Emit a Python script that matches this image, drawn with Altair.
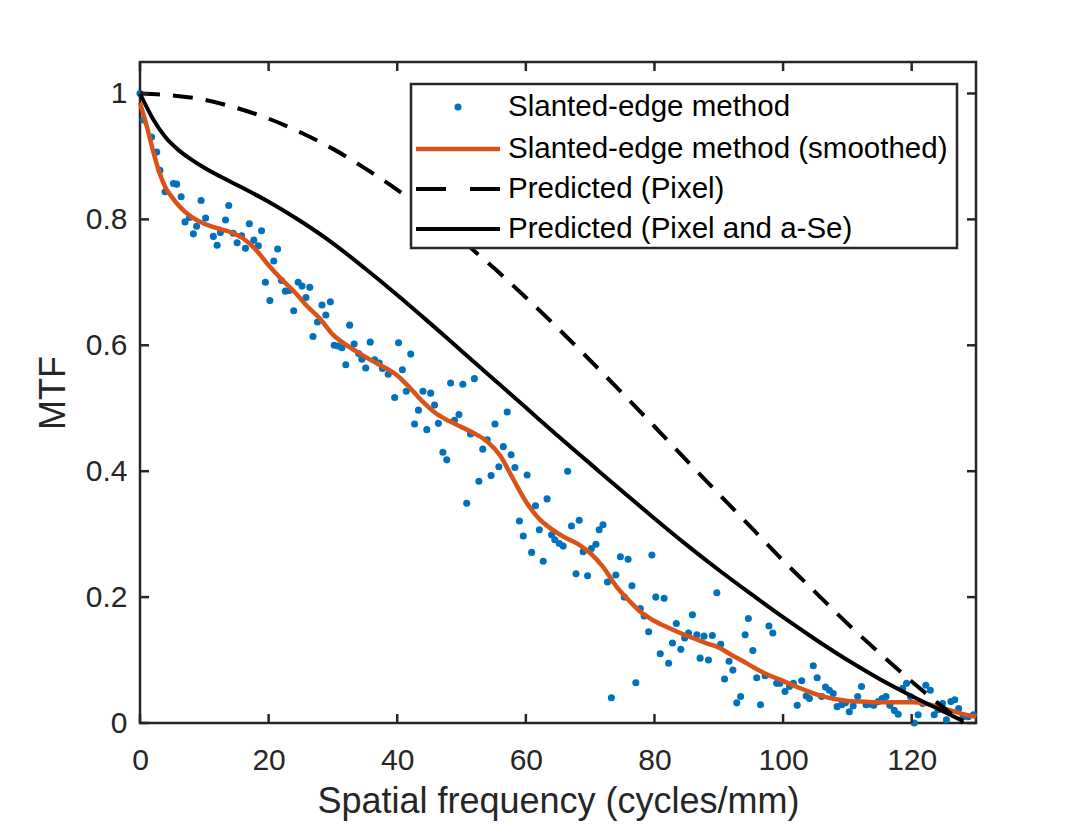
import altair as alt
import pandas as pd

# ---------------- data ----------------
scatter_f = [0.0, 0.5, 1.8, 2.6, 3.1, 3.9, 5.2, 5.7, 6.4, 7.0, 7.7, 8.3, 8.8, 9.5, 10.2, 11.4, 12.0, 12.5,
             13.3, 13.8, 14.5, 15.1, 15.8, 16.4, 17.0, 17.7, 18.4, 18.9, 19.5, 20.2, 20.8, 21.4, 22.0, 22.6,
             23.2, 23.9, 24.6, 25.2, 25.8, 26.4, 26.9, 27.6, 28.3, 28.9, 29.6, 30.2, 30.8, 31.4, 32.0, 32.6,
             33.3, 34.0, 34.5, 35.1, 35.8, 36.5, 37.2, 37.7, 38.6, 39.6, 40.2, 40.8, 41.4, 42.1, 42.7, 43.3,
             44.0, 44.6, 45.2, 45.8, 46.4, 47.1, 47.7, 48.3, 48.9, 49.6, 50.2, 50.8, 51.4, 52.0, 52.7, 53.3,
             54.0, 54.6, 55.2, 55.8, 56.5, 57.1, 57.7, 58.3, 59.0, 59.6, 60.2, 60.9, 61.5, 62.1, 62.7, 63.3,
             64.0, 64.5, 65.2, 65.8, 66.5, 67.1, 67.8, 68.3, 68.9, 69.6, 70.2, 70.9, 71.4, 72.0, 72.7, 73.3,
             74.0, 74.7, 75.3, 75.9, 76.5, 77.1, 77.8, 78.4, 79.1, 79.6, 80.2, 80.9, 81.5, 82.2, 82.8, 83.4,
             84.1, 84.7, 85.3, 85.9, 86.6, 87.1, 87.7, 88.4, 89.0, 89.7, 90.3, 90.9, 91.6, 92.2, 92.8, 93.4,
             94.1, 94.6, 95.3, 95.9, 96.5, 97.2, 97.8, 98.4, 99.0, 99.5, 100.3, 101.0, 101.6, 102.2, 102.9,
             103.6, 104.1, 104.7, 105.3, 106.0, 106.6, 107.2, 107.8, 108.4, 109.1, 109.7, 110.3, 110.9, 111.6,
             112.2, 112.9, 113.5, 114.1, 114.8, 115.4, 116.0, 116.6, 117.3, 117.9, 118.6, 119.2, 119.8, 120.4,
             121.0, 121.7, 122.2, 122.9, 123.5, 124.1, 124.8, 125.4, 126.1, 126.7, 127.3, 128.0, 128.8, 129.6]
scatter_mtf = [1.0, 0.958, 0.931, 0.907, 0.878, 0.844, 0.857, 0.856, 0.836, 0.796, 0.803, 0.777, 0.789, 0.83,
               0.802, 0.773, 0.759, 0.779, 0.799, 0.822, 0.778, 0.763, 0.774, 0.754, 0.793, 0.767, 0.758, 0.782,
               0.70, 0.671, 0.734, 0.753, 0.703, 0.686, 0.687, 0.655, 0.70, 0.694, 0.676, 0.692, 0.614, 0.637,
               0.664, 0.648, 0.669, 0.60, 0.599, 0.596, 0.569, 0.632, 0.602, 0.587, 0.578, 0.564, 0.605, 0.577,
               0.572, 0.563, 0.554, 0.517, 0.604, 0.561, 0.527, 0.586, 0.475, 0.497, 0.527, 0.466, 0.524, 0.505,
               0.476, 0.43, 0.418, 0.54, 0.481, 0.49, 0.538, 0.349, 0.459, 0.547, 0.384, 0.435, 0.45, 0.393,
               0.475, 0.407, 0.439, 0.494, 0.426, 0.406, 0.321, 0.297, 0.394, 0.271, 0.345, 0.307, 0.257, 0.356,
               0.299, 0.291, 0.285, 0.281, 0.40, 0.313, 0.237, 0.322, 0.272, 0.234, 0.277, 0.284, 0.307, 0.315,
               0.224, 0.04, 0.235, 0.264, 0.20, 0.26, 0.218, 0.064, 0.182, 0.17, 0.145, 0.267, 0.20, 0.11,
               0.198, 0.095, 0.127, 0.158, 0.117, 0.135, 0.143, 0.172, 0.14, 0.103, 0.138, 0.10, 0.139, 0.207,
               0.125, 0.07, 0.098, 0.084, 0.032, 0.042, 0.14, 0.166, 0.115, 0.072, 0.029, 0.075, 0.154, 0.143,
               0.063, 0.063, 0.05, 0.058, 0.063, 0.028, 0.067, 0.043, 0.039, 0.091, 0.072, 0.042, 0.057, 0.052,
               0.047, 0.026, 0.029, 0.032, 0.018, 0.027, 0.042, 0.058, 0.029, 0.03, 0.028, 0.034, 0.039, 0.042,
               0.028, 0.02, 0.014, 0.055, 0.063, 0.042, 0.0, 0.013, 0.031, 0.06, 0.052, 0.013, 0.021, 0.031,
               0.005, 0.034, 0.037, 0.023, 0.01, 0.01, 0.013]

smooth_f = [0, 1, 2, 3, 4, 5, 6, 8, 10, 12, 14, 16, 18, 20, 22, 24, 26, 28, 30, 32, 34, 36, 38, 40, 42, 44,
            46, 48, 50, 52, 54, 56, 58, 60, 62, 64, 66, 68, 70, 72, 74, 76, 78, 80, 82, 84, 86, 88, 90, 92,
            94, 96, 98, 100, 102, 104, 106, 108, 110, 112, 114, 116, 118, 120, 122, 124, 126, 128, 130]
smooth_mtf = [0.985, 0.95, 0.91, 0.875, 0.85, 0.835, 0.822, 0.804, 0.793, 0.786, 0.78, 0.77, 0.752, 0.727,
              0.705, 0.685, 0.662, 0.642, 0.617, 0.601, 0.588, 0.576, 0.565, 0.552, 0.532, 0.51, 0.492, 0.48,
              0.47, 0.46, 0.447, 0.425, 0.388, 0.352, 0.325, 0.308, 0.295, 0.285, 0.27, 0.248, 0.218, 0.195,
              0.175, 0.162, 0.152, 0.143, 0.135, 0.127, 0.12, 0.108, 0.097, 0.085, 0.075, 0.067, 0.058, 0.05,
              0.043, 0.038, 0.035, 0.034, 0.033, 0.033, 0.033, 0.033, 0.031, 0.026, 0.02, 0.014, 0.01]

pixel_f = [0, 5, 10, 15, 20, 25, 30, 35, 40, 45, 50, 55, 60, 65, 70, 75, 80, 85, 90, 95, 100, 105, 110,
           115, 120, 125, 128]
pixel_mtf = [1.0, 0.997, 0.990, 0.977, 0.960, 0.938, 0.912, 0.881, 0.847, 0.809, 0.767, 0.723, 0.676, 0.627,
             0.576, 0.524, 0.471, 0.417, 0.364, 0.311, 0.258, 0.208, 0.158, 0.111, 0.066, 0.024, 0.0]

ase_f = [0, 2, 4, 6, 8, 10, 15, 20, 25, 30, 35, 40, 45, 50, 55, 60, 65, 70, 75, 80, 85, 90, 95, 100, 105,
         110, 115, 120, 125, 128]
ase_mtf = [1.0, 0.96, 0.93, 0.91, 0.895, 0.882, 0.855, 0.828, 0.797, 0.762, 0.722, 0.680, 0.636, 0.591, 0.546,
           0.501, 0.456, 0.412, 0.368, 0.325, 0.283, 0.243, 0.205, 0.168, 0.133, 0.100, 0.070, 0.043, 0.018, 0.003]

x_ticks = [0, 20, 40, 60, 80, 100, 120]
y_ticks = [0, 0.2, 0.4, 0.6, 0.8, 1]
legend_labels = ["Slanted-edge method", "Slanted-edge method (smoothed)",
                 "Predicted (Pixel)", "Predicted (Pixel and a-Se)"]

# ---------------- styling ----------------
W, H = 836, 661
FONT = "Liberation Sans"
AX = "#262626"
BLUE = "#0072BD"
ORANGE = "#D95319"

xs = alt.Scale(domain=[0, 130], nice=False, zero=False)
ys = alt.Scale(domain=[0, 1.05], nice=False, zero=False)

df_sc = pd.DataFrame({"f": scatter_f, "mtf": scatter_mtf})
df_sm = pd.DataFrame({"f": smooth_f, "mtf": smooth_mtf})
df_px = pd.DataFrame({"f": pixel_f, "mtf": pixel_mtf})
df_as = pd.DataFrame({"f": ase_f, "mtf": ase_mtf})

x_axis = alt.Axis(values=x_ticks, title="Spatial frequency (cycles/mm)", grid=False, domain=False,
                  ticks=False, labelPadding=22, labelFontSize=30, titleFontSize=36, labelFlush=False,
                  labelFont=FONT, titleFont=FONT, labelColor=AX, titleColor=AX,
                  titleFontWeight="normal", titlePadding=9)
y_axis = alt.Axis(values=y_ticks, format="~g", title="MTF", grid=False, domain=False, ticks=False,
                  labelPadding=13, labelFontSize=30, titleFontSize=36, labelFont=FONT, titleFont=FONT,
                  labelFlush=False, labelColor=AX, titleColor=AX, titleFontWeight="normal",
                  titlePadding=13)

points = alt.Chart(df_sc).mark_point(filled=True, size=50, color=BLUE, opacity=1).encode(
    x=alt.X("f:Q", scale=xs, axis=x_axis),
    y=alt.Y("mtf:Q", scale=ys, axis=y_axis),
)
smooth = alt.Chart(df_sm).mark_line(color=ORANGE, strokeWidth=4.5, interpolate="monotone").encode(
    x=alt.X("f:Q", scale=xs, axis=x_axis), y=alt.Y("mtf:Q", scale=ys, axis=y_axis))
pixel = alt.Chart(df_px).mark_line(color="black", strokeWidth=4, strokeDash=[20, 13],
                                   interpolate="monotone").encode(
    x=alt.X("f:Q", scale=xs, axis=x_axis), y=alt.Y("mtf:Q", scale=ys, axis=y_axis))
ase = alt.Chart(df_as).mark_line(color="black", strokeWidth=4, interpolate="monotone").encode(
    x=alt.X("f:Q", scale=xs, axis=x_axis), y=alt.Y("mtf:Q", scale=ys, axis=y_axis))

# inward ticks on all four sides (MATLAB box style)
df_xt = pd.DataFrame({"t": x_ticks})
df_yt = pd.DataFrame({"t": y_ticks})
TL = 9
tick_b = alt.Chart(df_xt).mark_rule(color=AX, strokeWidth=2.5).encode(
    x=alt.X("t:Q", scale=xs, axis=x_axis), y=alt.value(H), y2=alt.value(H - TL))
tick_t = alt.Chart(df_xt).mark_rule(color=AX, strokeWidth=2.5).encode(
    x=alt.X("t:Q", scale=xs, axis=x_axis), y=alt.value(0), y2=alt.value(TL))
tick_l = alt.Chart(df_yt).mark_rule(color=AX, strokeWidth=2.5).encode(
    y=alt.Y("t:Q", scale=ys, axis=y_axis), x=alt.value(0), x2=alt.value(TL))
tick_r = alt.Chart(df_yt).mark_rule(color=AX, strokeWidth=2.5).encode(
    y=alt.Y("t:Q", scale=ys, axis=y_axis), x=alt.value(W), x2=alt.value(W - TL))

# legend box
LX0, LX1, LY0, LY1 = 271, 817, 22, 186
row_y = [45, 87, 127, 167]
SX0, SX1 = 276, 360
TX = 368
one = pd.DataFrame({"k": [0]})
leg_box = alt.Chart(one).mark_rect(fill="white", stroke=AX, strokeWidth=2.5).encode(
    x=alt.value(LX0), x2=alt.value(LX1), y=alt.value(LY0), y2=alt.value(LY1))
leg_dot = alt.Chart(one).mark_point(filled=True, size=50, color=BLUE, opacity=1).encode(
    x=alt.value((SX0 + SX1) / 2), y=alt.value(row_y[0]))
leg_or = alt.Chart(one).mark_rule(color=ORANGE, strokeWidth=4.5).encode(
    x=alt.value(SX0), x2=alt.value(SX1), y=alt.value(row_y[1]))
leg_da = alt.Chart(one).mark_rule(color="black", strokeWidth=4, strokeDash=[30, 24]).encode(
    x=alt.value(SX0), x2=alt.value(SX1), y=alt.value(row_y[2]))
leg_bl = alt.Chart(one).mark_rule(color="black", strokeWidth=4).encode(
    x=alt.value(SX0), x2=alt.value(SX1), y=alt.value(row_y[3]))
leg_txt = []
for i, lab in enumerate(legend_labels):
    leg_txt.append(
        alt.Chart(pd.DataFrame({"label": [lab]})).mark_text(
            align="left", baseline="middle", font=FONT, fontSize=29.5, color="black").encode(
            text="label:N", x=alt.value(TX), y=alt.value(row_y[i])))

chart = alt.layer(
    points, smooth, pixel, ase, tick_b, tick_t, tick_l, tick_r,
    leg_box, leg_dot, leg_or, leg_da, leg_bl, *leg_txt
).properties(
    width=W, height=H,
    autosize=alt.AutoSizeParams(type="none"),
    padding={"left": 132, "top": 54, "right": 80, "bottom": 100},
    background="white",
).configure_view(stroke=AX, strokeWidth=2.5)

chart.save("out.html", embed_options={"renderer": "svg", "actions": False})
